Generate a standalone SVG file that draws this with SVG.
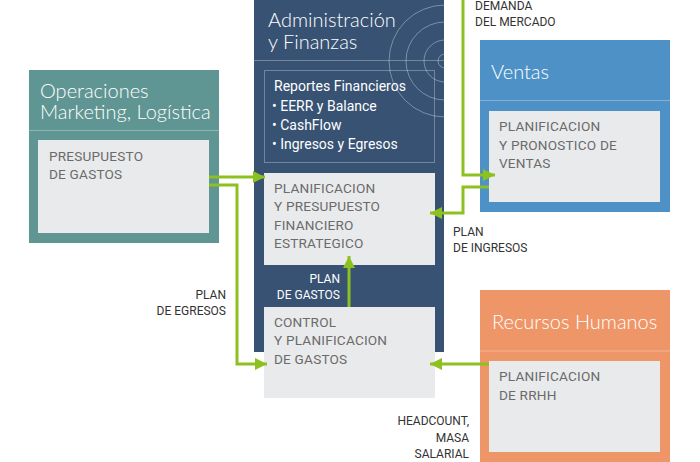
<svg xmlns="http://www.w3.org/2000/svg" width="700" height="462" viewBox="0 0 700 462">
<defs>
<marker id="ah" markerWidth="12" markerHeight="12" refX="12" refY="6" orient="auto" markerUnits="userSpaceOnUse">
<path d="M0,0 L12,6 L0,12 Z" fill="#8cc11f"/>
</marker>
<clipPath id="adminClip"><rect x="254" y="0" width="190" height="352"/></clipPath>
</defs>
<style>
.title{font-family:Lato,"Open Sans",sans-serif;font-weight:300;font-size:20px;fill:#ffffff}
.inner{fill:#e9eaec}
.itext{font-family:Roboto,"Liberation Sans",sans-serif;font-size:13.6px;fill:#6b6b6b;letter-spacing:0.2px}
.lbl{font-family:Roboto,"Liberation Sans",sans-serif;font-size:12px;fill:#333333}
.wlbl{font-family:Roboto,"Liberation Sans",sans-serif;font-size:12px;fill:#ffffff}
.rep{font-family:Roboto,"Liberation Sans",sans-serif;font-size:14px;fill:#ffffff}
.div{stroke:#ffffff;stroke-opacity:0.3;stroke-width:1}
.conn{fill:none;stroke:#8cc11f;stroke-width:3}
.ring{fill:none;stroke:#ffffff;stroke-opacity:0.35;stroke-width:1}
</style>

<g id="admin">
<rect x="254" y="0" width="190" height="352" fill="#375273"/>
<g clip-path="url(#adminClip)">
<circle class="ring" cx="445" cy="61" r="7"/>
<circle class="ring" cx="445" cy="61" r="21"/>
<circle class="ring" cx="445" cy="61" r="39"/>
<circle class="ring" cx="445" cy="61" r="56"/>
</g>
<text class="title" x="268" y="27" font-size="20.5">Administración</text>
<text class="title" x="268" y="49" font-size="20.5">y Finanzas</text>
<line class="div" x1="254" y1="60.5" x2="444" y2="60.5"/>
<rect x="264.5" y="70.5" width="170" height="92" fill="none" stroke="#ffffff" stroke-opacity="0.3"/>
<text class="rep" x="274" y="91">Reportes Financieros</text>
<text class="rep" x="272" y="111">• EERR y Balance</text>
<text class="rep" x="272" y="130">• CashFlow</text>
<text class="rep" x="272" y="149">• Ingresos y Egresos</text>
</g>

<g id="planificacion-financiera">
<rect class="inner" x="264" y="173" width="171" height="92"/>
<text class="itext" x="274" y="193">PLANIFICACION</text>
<text class="itext" x="274" y="211">Y PRESUPUESTO</text>
<text class="itext" x="274" y="230">FINANCIERO</text>
<text class="itext" x="274" y="248">ESTRATEGICO</text>
</g>

<g id="control-gastos">
<rect class="inner" x="264" y="307" width="171" height="91"/>
<text class="itext" x="274" y="327">CONTROL</text>
<text class="itext" x="274" y="345">Y PLANIFICACION</text>
<text class="itext" x="274" y="364">DE GASTOS</text>
</g>

<g id="operaciones">
<rect x="29" y="70" width="190" height="173" fill="#5f9592"/>
<text class="title" x="40" y="98">Operaciones</text>
<text class="title" x="40" y="119">Marketing, Logística</text>
<line class="div" x1="29" y1="130.5" x2="219" y2="130.5"/>
<rect class="inner" x="38" y="140" width="171" height="93"/>
<text class="itext" x="49" y="161">PRESUPUESTO</text>
<text class="itext" x="49" y="179">DE GASTOS</text>
</g>

<g id="ventas">
<rect x="480" y="40" width="190" height="172" fill="#4d91c6"/>
<text class="title" x="491" y="79">Ventas</text>
<line class="div" x1="480" y1="100.5" x2="670" y2="100.5"/>
<rect class="inner" x="489" y="111" width="171" height="91"/>
<text class="itext" x="499" y="131">PLANIFICACION</text>
<text class="itext" x="499" y="150">Y PRONOSTICO DE</text>
<text class="itext" x="499" y="168">VENTAS</text>
</g>

<g id="rrhh">
<rect x="480" y="290" width="190" height="172" fill="#ef9669"/>
<text class="title" x="492" y="329">Recursos Humanos</text>
<line class="div" x1="480" y1="351" x2="670" y2="351"/>
<rect class="inner" x="489" y="361" width="171" height="91"/>
<text class="itext" x="499" y="381">PLANIFICACION</text>
<text class="itext" x="499" y="400">DE RRHH</text>
</g>

<g id="connectors">
<path class="conn" d="M209,177 L265,177" marker-end="url(#ah)"/>
<path class="conn" d="M209,185 L237,185 L237,364 L267,364" marker-end="url(#ah)"/>
<path class="conn" d="M349,307 L349,256" marker-end="url(#ah)"/>
<path class="conn" d="M463,0 L463,175 L495,175" marker-end="url(#ah)"/>
<path class="conn" d="M489,187 L463,187 L463,213 L430,213" marker-end="url(#ah)"/>
<path class="conn" d="M489,364 L430,364" marker-end="url(#ah)"/>
</g>

<g id="labels">
<text class="lbl" x="475" y="10">DEMANDA</text>
<text class="lbl" x="475" y="26">DEL MERCADO</text>
<text class="lbl" x="453" y="236">PLAN</text>
<text class="lbl" x="453" y="252">DE INGRESOS</text>
<text class="lbl" x="226" y="299" text-anchor="end">PLAN</text>
<text class="lbl" x="226" y="315" text-anchor="end">DE EGRESOS</text>
<text class="wlbl" x="340" y="283" text-anchor="end">PLAN</text>
<text class="wlbl" x="340" y="299" text-anchor="end">DE GASTOS</text>
<text class="lbl" x="469" y="425" text-anchor="end">HEADCOUNT,</text>
<text class="lbl" x="469" y="442" text-anchor="end">MASA</text>
<text class="lbl" x="469" y="458" text-anchor="end">SALARIAL</text>
</g>
</svg>
